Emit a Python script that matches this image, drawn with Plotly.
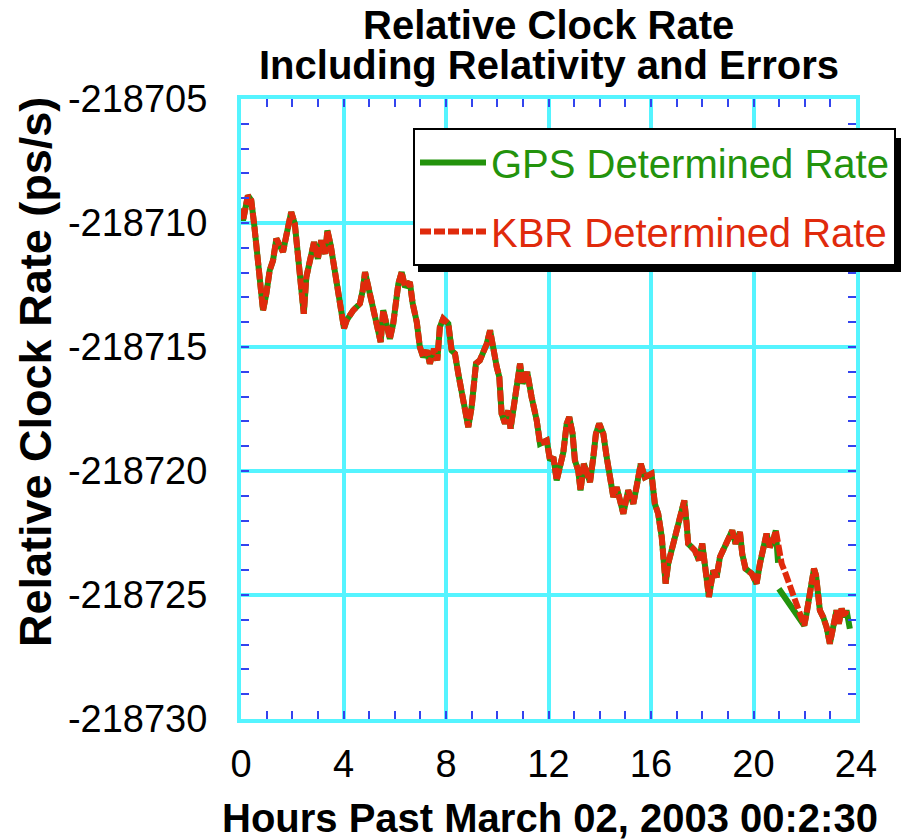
import plotly.graph_objects as go

# Hours past 2003-03-02 00:02:30 and the KBR-derived relative clock rate (ps/s)
hours = [
    0.00, 0.08, 0.27, 0.40, 0.51, 0.60, 0.73, 0.86, 0.99, 1.12, 1.25, 1.38, 1.51, 1.64, 1.77, 1.96,
    2.10, 2.22, 2.35, 2.45, 2.55, 2.68, 2.85, 3.00, 3.13, 3.29, 3.37, 3.50, 3.66, 3.78, 3.89, 4.02,
    4.12, 4.38, 4.64, 4.75, 4.84, 4.97, 5.10, 5.23, 5.36, 5.45, 5.55, 5.68, 5.81, 5.94, 6.05, 6.14,
    6.27, 6.40, 6.59, 6.70, 6.86, 6.98, 7.11, 7.25, 7.37, 7.53, 7.66, 7.76, 7.89, 8.09, 8.22, 8.35,
    8.48, 8.61, 8.74, 8.87, 9.00, 9.06, 9.17, 9.32, 9.45, 9.59, 9.72, 9.82, 9.98, 10.08, 10.17, 10.30,
    10.43, 10.52, 10.65, 10.76, 10.89, 10.99, 11.17, 11.34, 11.54, 11.67, 11.93, 12.06, 12.19, 12.32,
    12.45, 12.58, 12.71, 12.81, 12.94, 13.03, 13.16, 13.25, 13.38, 13.49, 13.62, 13.75, 13.85, 13.98,
    14.14, 14.27, 14.40, 14.53, 14.66, 14.79, 14.92, 15.11, 15.31, 15.46, 15.60, 15.76, 16.02, 16.15,
    16.28, 16.42, 16.48, 16.57, 16.67, 16.80, 16.91, 17.00, 17.13, 17.30, 17.39, 17.45, 17.71, 17.87,
    18.00, 18.08, 18.14, 18.26, 18.43, 18.56, 18.69, 18.88, 19.01, 19.17, 19.30, 19.47, 19.56, 19.69,
    19.93, 20.12, 20.25, 20.38, 20.51, 20.64, 20.77, 20.87, 20.96, 21.10, 21.23, 21.35, 21.49, 21.62,
    21.74, 21.88, 21.98, 22.07, 22.16, 22.27, 22.36, 22.44, 22.50, 22.59, 22.72, 22.85, 22.98, 23.11,
    23.24, 23.33, 23.44, 23.54, 23.63,
]
kbr_rate = [
    -218709.42, -218709.90, -218708.89, -218709.09, -218710.02, -218710.97, -218712.18, -218713.52,
    -218712.84, -218711.91, -218711.51, -218710.63, -218710.90, -218711.17, -218710.50, -218709.56,
    -218710.03, -218711.38, -218712.72, -218713.66, -218712.18, -218711.51, -218710.77, -218711.44,
    -218710.70, -218711.24, -218710.30, -218710.90, -218711.91, -218712.72, -218713.66, -218714.25,
    -218713.93, -218713.52, -218713.25, -218712.72, -218711.98, -218712.58, -218713.05, -218713.79,
    -218714.33, -218714.80, -218713.52, -218714.13, -218714.67, -218714.06, -218713.12, -218712.45,
    -218711.98, -218712.58, -218712.38, -218713.25, -218714.00, -218715.00, -218715.41, -218715.14,
    -218715.67, -218715.07, -218715.54, -218714.20, -218713.86, -218714.06, -218715.14, -218715.27,
    -218716.08, -218716.88, -218717.42, -218718.23, -218717.42, -218716.48, -218715.67, -218715.54,
    -218715.27, -218714.87, -218714.33, -218715.00, -218715.81, -218716.21, -218717.69, -218718.09,
    -218717.56, -218718.29, -218717.42, -218716.88, -218715.67, -218716.48, -218716.01, -218717.02,
    -218717.96, -218718.90, -218718.77, -218719.57, -218719.44, -218720.38, -218719.71, -218719.24,
    -218718.09, -218717.83, -218718.50, -218719.57, -218719.98, -218720.78, -218719.71, -218720.11,
    -218720.45, -218719.44, -218718.50, -218718.09, -218718.50, -218719.44, -218720.11, -218721.05,
    -218720.65, -218721.19, -218721.72, -218720.78, -218721.32, -218720.51, -218719.71, -218720.25,
    -218720.11, -218721.32, -218721.72, -218722.67, -218723.47, -218724.54, -218723.74, -218723.20,
    -218722.80, -218722.26, -218721.72, -218721.19, -218722.13, -218722.93, -218723.20, -218723.60,
    -218722.93, -218723.60, -218724.54, -218725.08, -218724.01, -218724.28, -218723.47, -218723.07,
    -218722.67, -218722.40, -218722.93, -218722.46, -218723.34, -218723.94, -218724.14, -218724.54,
    -218723.74, -218723.07, -218722.53, -218723.07, -218722.80, -218722.40, -218723.07, -218723.74,
    -218724.08, -218724.41, -218724.81, -218725.22, -218725.62, -218726.02, -218726.23, -218725.75,
    -218725.08, -218724.54, -218723.94, -218724.21, -218725.08, -218725.62, -218725.89, -218726.29,
    -218726.96, -218726.16, -218725.62, -218726.16, -218725.55, -218725.89, -218725.62,
]

# GPS solution follows the KBR rate except across a data gap near hour 21,
# where it is bridged by a straight segment, and it runs slightly longer at the end.
gps_gap_hours = [20.96, None, 20.99, 21.88]
gps_gap_rate = [-218723.70, None, -218724.75, -218726.02]
gps_tail_hours = [23.76]
gps_tail_rate = [-218726.36]

x_ticks = [0, 4, 8, 12, 16, 20, 24]
y_ticks = [-218705, -218710, -218715, -218720, -218725, -218730]

gps_hours, gps_rate = [], []
for h, v in zip(hours, kbr_rate):
    if h < 20.9:
        gps_hours.append(h)
        gps_rate.append(v)
gps_hours += gps_gap_hours
gps_rate += gps_gap_rate
for h, v in zip(hours, kbr_rate):
    if h > 21.9:
        gps_hours.append(h)
        gps_rate.append(v)
gps_hours += gps_tail_hours
gps_rate += gps_tail_rate

GREEN = "#23930c"
RED = "#e02a0c"
CYAN = "#55f4ff"
BLUE = "#3344ee"
FONT = "Liberation Sans"

fig = go.Figure()
fig.add_trace(go.Scatter(
    x=gps_hours, y=gps_rate, mode="lines", connectgaps=False,
    name=f"<span style='color:{GREEN}'>GPS Determined Rate</span>",
    legendgroup="gps",
    line=dict(color=GREEN, width=6),
))
fig.add_trace(go.Scatter(
    x=hours, y=kbr_rate, mode="lines",
    name=f"<span style='color:{RED}'>KBR Determined Rate</span>",
    legendgroup="kbr",
    line=dict(color=RED, width=6, dash="11px,3px"),
))

axis_common = dict(
    showline=True, linecolor=CYAN, linewidth=4, mirror="allticks",
    showgrid=True, gridcolor=CYAN, gridwidth=4,
    zeroline=False,
    ticks="inside", ticklen=8, tickcolor=BLUE, tickwidth=1.5,
    tickfont=dict(family=FONT, size=38, color="black"),
)

fig.update_xaxes(
    range=[0, 24], tickvals=x_ticks, ticktext=[str(t) for t in x_ticks],
    minor=dict(dtick=1, ticks="inside", ticklen=8, tickcolor=BLUE, tickwidth=1.5, showgrid=False),
    ticklabelstandoff=8,
    **axis_common,
)
fig.update_yaxes(
    range=[-218730, -218705], tickvals=y_ticks, ticktext=[str(t) for t in y_ticks],
    minor=dict(dtick=1, ticks="inside", ticklen=8, tickcolor=BLUE, tickwidth=1.5, showgrid=False),
    ticklabelstandoff=22,
    **axis_common,
)

L, R, T, B = 241, 45, 99, 121
PW, PH = 901 - L - R, 840 - T - B

def px_x(p):
    return (p - L) / PW

def px_y(p):
    return (840 - B - p) / PH

# drop shadow behind the legend box
fig.add_shape(type="rect", xref="paper", yref="paper",
              x0=px_x(418), x1=px_x(910), y0=px_y(272), y1=px_y(138),
              fillcolor="black", line=dict(width=0), layer="above")

fig.add_annotation(text="<b>Relative Clock Rate</b>", xref="paper", yref="paper",
                   x=0.5, y=px_y(25), xanchor="center", yanchor="middle", showarrow=False,
                   font=dict(family=FONT, size=40, color="black"))
fig.add_annotation(text="<b>Including Relativity and Errors</b>", xref="paper", yref="paper",
                   x=0.5, y=px_y(65), xanchor="center", yanchor="middle", showarrow=False,
                   font=dict(family=FONT, size=40, color="black"))
fig.add_annotation(text="<b>Hours Past March 02, 2003 00:2:30</b>", xref="paper", yref="paper",
                   x=px_x(550), y=px_y(818), xanchor="center", yanchor="middle", showarrow=False,
                   font=dict(family=FONT, size=40, color="black"))
fig.add_annotation(text="<b>Relative Clock Rate (ps/s)</b>", xref="paper", yref="paper",
                   x=px_x(35), y=px_y(372), xanchor="center", yanchor="middle", showarrow=False,
                   textangle=-90, font=dict(family=FONT, size=45, color="black"))

fig.update_layout(
    width=901, height=840,
    margin=dict(l=L, r=R, t=T, b=B, autoexpand=False),
    paper_bgcolor="white", plot_bgcolor="white",
    showlegend=True,
    legend=dict(
        x=px_x(413), y=px_y(128), xanchor="left", yanchor="top",
        bgcolor="white", bordercolor="black", borderwidth=2,
        font=dict(family=FONT, size=40),
        itemwidth=66,
        traceorder="grouped", tracegroupgap=14,
    ),
)

fig.write_html("out.html")
